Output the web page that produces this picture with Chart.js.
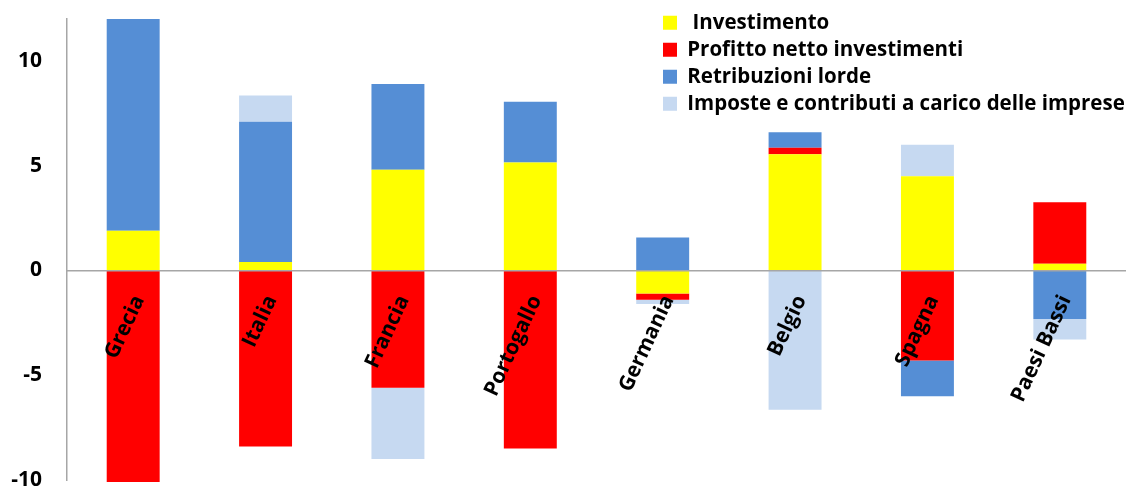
<!DOCTYPE html>
<html>
<head>
<meta charset="utf-8">
<script src="https://cdn.jsdelivr.net/npm/chart.js@4.4.1/dist/chart.umd.min.js"></script>
<style>
  html, body { margin: 0; padding: 0; background: #fff; }
  #contenitore { width: 1126px; height: 489px; }
</style>
</head>
<body>
<div id="contenitore"><canvas id="graficoPaesi"></canvas></div>
<script>
  // Dati
  const paesi = ['Grecia', 'Italia', 'Francia', 'Portogallo', 'Germania', 'Belgio', 'Spagna', 'Paesi Bassi'];
  const investimento = [1.9, 0.4, 4.8, 5.15, -1.1, 5.55, 4.5, 0.32];
  const profitto = [-10.1, -8.4, -5.6, -8.5, -0.3, 0.3, -4.3, 2.93];
  const retribuzioni = [10.1, 6.7, 4.1, 2.9, 1.57, 0.75, -1.7, -2.32];
  const imposte = [0, 1.25, -3.4, 0, -0.2, -6.65, 1.5, -0.97];
  const tickY = [-10, -5, 0, 5, 10];

  Chart.defaults.font.family = '"Open Sans", Lato, sans-serif';
  Chart.defaults.color = '#000';

  // Sposta la legenda in alto a destra, dentro l'area del grafico
  const spostaLegenda = {
    id: 'spostaLegenda',
    afterLayout(chart) {
      const leg = chart.legend;
      const w = leg.width, h = leg.height;
      leg.left = 656.5;
      leg.top = 6;
      leg.right = leg.left + w;
      leg.bottom = leg.top + h;
    }
  };

  const serie = (label, data, colore) => ({
    label: label,
    data: data,
    backgroundColor: colore,
    borderWidth: 0,
    clip: false
  });

  const ctx = document.getElementById('graficoPaesi').getContext('2d');
  new Chart(ctx, {
    type: 'bar',
    data: {
      labels: paesi,
      datasets: [
        serie(' Investimento', investimento, '#ffff00'),
        serie('Profitto netto investimenti', profitto, '#ff0000'),
        serie('Retribuzioni lorde', retribuzioni, '#558ed5'),
        serie('Imposte e contributi a carico delle imprese', imposte, '#c6d9f1')
      ]
    },
    options: {
      responsive: true,
      maintainAspectRatio: false,
      animation: false,
      barPercentage: 0.4,
      categoryPercentage: 1.0,
      layout: { padding: { top: 19, bottom: 9, left: 0, right: 0 } },
      scales: {
        x: {
          stacked: true,
          position: { y: 0 },
          grid: { display: false, drawTicks: false },
          border: { display: true, color: '#a6a6a6', width: 1.5, z: 1 },
          afterFit: (scale) => { scale.paddingLeft = 0; scale.paddingRight = 0; },
          ticks: {
            z: 2,
            minRotation: 65,
            maxRotation: 65,
            autoSkip: false,
            padding: 21,
            labelOffset: 6,
            font: { size: 21, weight: 'bold' }
          }
        },
        y: {
          stacked: true,
          min: -10,
          max: 12,
          afterBuildTicks: (scale) => { scale.ticks = tickY.map(v => ({ value: v })); },
          afterFit: (scale) => { scale.width = 67; scale.paddingTop = 0; scale.paddingBottom = 0; },
          grid: { display: false, drawTicks: false },
          border: { display: true, color: '#a6a6a6', width: 1.5 },
          ticks: {
            padding: 25,
            font: { size: 21, weight: 'bold' }
          }
        }
      },
      plugins: {
        legend: {
          position: 'chartArea',
          align: 'start',
          labels: {
            boxWidth: 14,
            boxHeight: 14,
            padding: 6.5,
            color: '#000',
            font: { size: 20.5, weight: 'bold' }
          }
        },
        tooltip: { enabled: false }
      }
    },
    plugins: [spostaLegenda]
  });
</script>
</body>
</html>
